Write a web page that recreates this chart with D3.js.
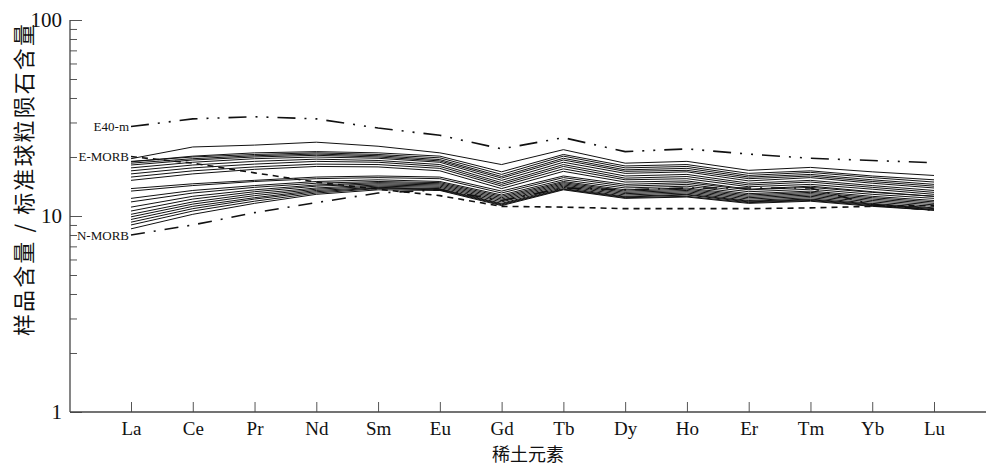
<!DOCTYPE html>
<html>
<head>
<meta charset="utf-8">
<script src="https://cdn.jsdelivr.net/npm/d3@7"></script>
<style>
  body { margin: 0; background: #fff; }
  svg { display: block; }
  .tick text { font-family: "Liberation Serif", "DejaVu Serif", serif; fill: #111; }
</style>
</head>
<body>
<div id="chart"></div>
<script>
// 稀土元素
const elements = ['La', 'Ce', 'Pr', 'Nd', 'Sm', 'Eu', 'Gd', 'Tb', 'Dy', 'Ho', 'Er', 'Tm', 'Yb', 'Lu'];

// 参考曲线
const e40m  = [28.6, 31.3, 32.1, 31.3, 28.1, 25.8, 22.0, 25.1, 21.3, 22.0, 20.7, 19.7, 19.2, 18.7];
const emorb = [20.1, 18.6, 16.6, 14.9, 13.7, 12.7, 11.2, 11.1, 10.9, 10.9, 10.9, 11.0, 11.2, 11.3];
const nmorb = [8.0, 9.0, 10.4, 11.7, 13.1, 13.6, 12.0, 13.9, 13.6, 13.9, 13.9, 13.9, 11.4, 10.7];

// 样品（上组）
const s01 = [19.6, 22.5, 23.0, 23.8, 22.7, 21.0, 18.3, 21.8, 18.6, 19.0, 17.1, 17.7, 16.8, 16.1];
const s02 = [18.9, 20.2, 21.0, 21.3, 21.0, 20.2, 16.8, 20.6, 18.0, 18.3, 16.5, 17.0, 16.0, 15.3];
const s03 = [19.0, 20.0, 20.6, 21.0, 20.6, 19.8, 16.3, 20.2, 17.6, 17.9, 16.1, 16.7, 15.7, 14.9];
const s04 = [18.6, 19.6, 20.3, 20.7, 20.3, 19.4, 15.9, 19.7, 17.2, 17.5, 15.8, 16.3, 15.3, 14.5];
const s05 = [18.2, 19.3, 20.0, 20.4, 20.0, 19.1, 15.6, 19.3, 16.9, 17.1, 15.5, 16.0, 15.0, 14.2];
const s06 = [17.6, 18.8, 19.6, 20.0, 19.7, 18.8, 15.2, 18.8, 16.5, 16.8, 15.1, 15.7, 14.7, 13.9];
const s07 = [17.0, 18.2, 19.0, 19.5, 19.2, 18.3, 14.8, 18.3, 16.0, 16.3, 14.7, 15.2, 14.3, 13.5];
const s08 = [16.4, 17.6, 18.4, 19.0, 18.8, 17.9, 14.5, 17.9, 15.6, 15.9, 14.4, 14.9, 14.0, 13.2];
const s09 = [15.8, 17.0, 17.8, 18.4, 18.3, 17.5, 14.2, 17.4, 15.3, 15.5, 14.1, 14.5, 13.7, 12.9];
const s10 = [15.2, 16.4, 17.3, 17.9, 17.8, 17.0, 13.8, 16.9, 14.9, 15.1, 13.7, 14.2, 13.3, 12.6];

// 样品（下组）
const s11 = [13.8, 14.6, 15.2, 15.8, 16.0, 15.8, 13.4, 16.0, 14.5, 14.8, 13.6, 14.0, 13.2, 12.6];
const s12 = [13.4, 14.3, 15.0, 15.5, 15.7, 15.5, 13.1, 15.7, 14.2, 14.5, 13.3, 13.7, 12.9, 12.3];
const s13 = [12.3, 13.5, 14.3, 15.0, 15.3, 15.0, 12.8, 15.3, 13.9, 14.2, 13.0, 13.4, 12.6, 12.0];
const s14 = [11.8, 13.1, 14.0, 14.7, 15.0, 14.8, 12.6, 15.0, 13.6, 13.9, 12.8, 13.2, 12.4, 11.8];
const s15 = [11.1, 12.6, 13.6, 14.4, 14.8, 14.6, 12.4, 14.8, 13.4, 13.7, 12.6, 13.0, 12.2, 11.6];
const s16 = [10.6, 12.2, 13.3, 14.2, 14.6, 14.4, 12.2, 14.6, 13.2, 13.5, 12.4, 12.8, 12.0, 11.4];
const s17 = [10.2, 11.8, 13.0, 13.9, 14.4, 14.2, 12.0, 14.4, 13.0, 13.3, 12.2, 12.6, 11.8, 11.2];
const s18 = [9.9, 11.5, 12.7, 13.7, 14.2, 14.0, 11.8, 14.2, 12.8, 13.1, 12.0, 12.4, 11.6, 11.0];
const s19 = [9.6, 11.2, 12.4, 13.5, 14.0, 13.8, 11.6, 14.0, 12.6, 12.9, 11.9, 12.2, 11.5, 10.9];
const s20 = [9.3, 10.9, 12.2, 13.3, 13.9, 13.7, 11.5, 13.8, 12.5, 12.8, 11.8, 12.1, 11.4, 10.8];
const s21 = [9.0, 10.6, 11.9, 13.1, 13.8, 13.6, 11.4, 13.7, 12.4, 12.6, 11.7, 12.0, 11.3, 10.7];
const s22 = [8.6, 10.2, 11.6, 12.9, 13.6, 13.5, 11.3, 13.6, 12.3, 12.5, 11.6, 11.9, 11.2, 10.7];

const samples = [s01, s02, s03, s04, s05, s06, s07, s08, s09, s10, s11,
                 s12, s13, s14, s15, s16, s17, s18, s19, s20, s21, s22];

const refs = [
  { name: 'E40-m', values: e40m, dash: '18,9,2,9,2,9' },
  { name: 'E-MORB', values: emorb, dash: '6,5' },
  { name: 'N-MORB', values: nmorb, dash: '14,9,2,9' }
];

const majorTicks = [1, 10, 100];
const minorTicks = [2, 3, 4, 5, 6, 7, 8, 9, 20, 30, 40, 50, 60, 70, 80, 90];

const width = 988, height = 468;
const axisX = 70, axisY = 412;

const svg = d3.select('#chart').append('svg')
  .attr('width', width)
  .attr('height', height);

const x = d3.scalePoint().domain(elements).range([131, 934]);
const y = d3.scaleLog().domain([1, 100]).range([axisY, 20]);

// 坐标轴
const yAxis = svg.append('g').attr('transform', `translate(${axisX},0)`)
  .call(d3.axisLeft(y).tickValues(majorTicks).tickFormat(d3.format('d'))
    .tickSize(-12).tickPadding(8));
yAxis.select('.domain').remove();
yAxis.selectAll('.tick line').attr('stroke', '#555');
yAxis.selectAll('.tick text').attr('font-size', 21);

const yMinor = svg.append('g').attr('transform', `translate(${axisX},0)`)
  .call(d3.axisLeft(y).tickValues(minorTicks).tickFormat('').tickSize(-7));
yMinor.select('.domain').remove();
yMinor.selectAll('.tick line').attr('stroke', '#555');

svg.append('line')
  .attr('x1', axisX).attr('x2', axisX)
  .attr('y1', y(100)).attr('y2', axisY)
  .attr('stroke', '#444').attr('stroke-width', 1.3);

const xAxis = svg.append('g').attr('transform', `translate(0,${axisY})`)
  .call(d3.axisBottom(x).tickSize(-10).tickPadding(10));
xAxis.select('.domain').remove();
xAxis.selectAll('.tick line').attr('stroke', '#555');
xAxis.selectAll('.tick text').attr('font-size', 19);

svg.append('line')
  .attr('x1', axisX).attr('x2', 986)
  .attr('y1', axisY).attr('y2', axisY)
  .attr('stroke', '#444').attr('stroke-width', 1.3);

// 标题
svg.append('text')
  .attr('x', 528).attr('y', 461)
  .attr('text-anchor', 'middle')
  .attr('font-family', '"Noto Sans CJK SC", sans-serif')
  .attr('font-size', 18)
  .attr('fill', '#111')
  .text('稀土元素');

svg.append('text')
  .attr('transform', 'translate(32,180) rotate(-90)')
  .attr('text-anchor', 'middle')
  .attr('font-family', '"Noto Sans CJK SC", sans-serif')
  .attr('font-size', 22)
  .attr('textLength', 312)
  .attr('lengthAdjust', 'spacing')
  .attr('fill', '#111')
  .text('样品含量 / 标准球粒陨石含量');

const line = d3.line()
  .x((d, i) => x(elements[i]))
  .y(d => y(d));

// 样品曲线
svg.append('g').selectAll('path')
  .data(samples)
  .enter()
  .append('path')
  .attr('d', line)
  .attr('fill', 'none')
  .attr('stroke', '#111')
  .attr('stroke-width', 1);

// 参考曲线
svg.append('g').selectAll('path')
  .data(refs)
  .enter()
  .append('path')
  .attr('d', d => line(d.values))
  .attr('fill', 'none')
  .attr('stroke', '#111')
  .attr('stroke-width', 1.6)
  .attr('stroke-dasharray', d => d.dash);

svg.append('g').selectAll('text')
  .data(refs)
  .enter()
  .append('text')
  .attr('x', x('La') - 2)
  .attr('y', d => y(d.values[0]))
  .attr('dy', '0.35em')
  .attr('text-anchor', 'end')
  .attr('font-family', '"Liberation Serif", serif')
  .attr('font-size', 13)
  .attr('fill', '#111')
  .text(d => d.name);
</script>
</body>
</html>
